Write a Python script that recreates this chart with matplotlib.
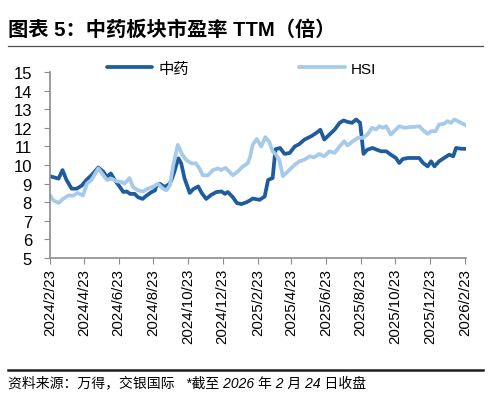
import matplotlib
matplotlib.use("Agg")
import matplotlib.pyplot as plt
import pandas as pd

plt.rcParams['font.family'] = ['Liberation Sans', 'Noto Sans CJK SC', 'DejaVu Sans']

# 中药板块市盈率 TTM
tcm_dates = [
    "2024-02-23", "2024-03-09", "2024-03-16", "2024-03-23", "2024-04-01", "2024-04-10",
    "2024-04-19", "2024-04-27", "2024-05-06", "2024-05-18", "2024-05-27", "2024-06-02",
    "2024-06-09", "2024-06-16", "2024-06-25", "2024-07-01", "2024-07-07", "2024-07-13",
    "2024-07-21", "2024-07-27", "2024-08-04", "2024-08-11", "2024-08-20", "2024-08-26",
    "2024-08-28", "2024-09-03", "2024-09-12", "2024-09-21", "2024-09-27", "2024-10-06",
    "2024-10-11", "2024-10-17", "2024-10-26", "2024-11-01", "2024-11-10", "2024-11-16",
    "2024-11-24", "2024-12-03", "2024-12-12", "2024-12-21", "2024-12-27", "2025-01-01",
    "2025-01-10", "2025-01-17", "2025-01-25", "2025-02-03", "2025-02-09", "2025-02-14",
    "2025-02-26", "2025-03-07", "2025-03-13", "2025-03-21", "2025-03-26", "2025-04-03",
    "2025-04-11", "2025-04-20", "2025-04-29", "2025-05-07", "2025-05-16", "2025-05-28",
    "2025-06-06", "2025-06-13", "2025-06-20", "2025-06-29", "2025-07-08", "2025-07-17",
    "2025-07-24", "2025-07-31", "2025-08-08", "2025-08-15", "2025-08-22", "2025-08-28",
    "2025-09-04", "2025-09-13", "2025-09-20", "2025-09-28", "2025-10-07", "2025-10-15",
    "2025-10-24", "2025-10-30", "2025-11-05", "2025-11-14", "2025-11-22", "2025-12-04",
    "2025-12-11", "2025-12-19", "2025-12-25", "2025-12-31", "2026-01-08", "2026-01-17",
    "2026-01-26", "2026-02-02", "2026-02-07", "2026-02-15", "2026-02-24",
]
tcm_pe = [
    9.40, 9.27, 9.73, 9.20, 8.73, 8.73,
    8.90, 9.20, 9.45, 9.87, 9.64, 9.36,
    9.55, 9.20, 8.82, 8.55, 8.58, 8.45,
    8.45, 8.27, 8.18, 8.36, 8.55, 8.64,
    8.87, 9.00, 8.82, 9.00, 9.45, 10.36,
    10.09, 9.27, 8.50, 8.70, 8.85, 8.50,
    8.18, 8.40, 8.55, 8.58, 8.45, 8.55,
    8.27, 7.96, 7.90, 8.00, 8.10, 8.20,
    8.13, 8.31, 9.20, 9.30, 10.85, 10.92,
    10.60, 10.65, 11.00, 11.13, 11.37, 11.55,
    11.73, 11.90, 11.37, 11.64, 11.90, 12.27,
    12.40, 12.32, 12.27, 12.45, 12.27, 10.60,
    10.83, 10.92, 10.83, 10.74, 10.74, 10.56,
    10.38, 10.11, 10.32, 10.38, 10.38, 10.38,
    10.11, 9.93, 10.20, 9.93, 10.20, 10.38,
    10.56, 10.47, 10.92, 10.88, 10.87,
]

# 恒生指数市盈率 TTM
hsi_dates = [
    "2024-02-23", "2024-02-29", "2024-03-09", "2024-03-17", "2024-03-26", "2024-04-04",
    "2024-04-12", "2024-04-21", "2024-04-28", "2024-05-06", "2024-05-18", "2024-05-27",
    "2024-06-02", "2024-06-10", "2024-06-19", "2024-06-28", "2024-07-03", "2024-07-12",
    "2024-07-18", "2024-07-27", "2024-08-05", "2024-08-13", "2024-08-22", "2024-08-31",
    "2024-09-09", "2024-09-15", "2024-09-21", "2024-09-27", "2024-10-05", "2024-10-13",
    "2024-10-20", "2024-10-29", "2024-11-06", "2024-11-12", "2024-11-18", "2024-11-27",
    "2024-12-06", "2024-12-15", "2024-12-20", "2024-12-28", "2025-01-04", "2025-01-10",
    "2025-01-18", "2025-01-27", "2025-02-05", "2025-02-09", "2025-02-14", "2025-02-21",
    "2025-03-01", "2025-03-08", "2025-03-15", "2025-03-21", "2025-03-27", "2025-04-02",
    "2025-04-08", "2025-04-20", "2025-04-29", "2025-05-07", "2025-05-16", "2025-05-25",
    "2025-06-02", "2025-06-11", "2025-06-20", "2025-06-29", "2025-07-08", "2025-07-17",
    "2025-07-25", "2025-07-31", "2025-08-09", "2025-08-18", "2025-08-26", "2025-09-04",
    "2025-09-12", "2025-09-19", "2025-09-25", "2025-10-01", "2025-10-07", "2025-10-15",
    "2025-10-24", "2025-10-30", "2025-11-08", "2025-11-16", "2025-11-25", "2025-12-04",
    "2025-12-13", "2025-12-19", "2025-12-25", "2026-01-02", "2026-01-08", "2026-01-17",
    "2026-01-23", "2026-01-29", "2026-02-04", "2026-02-10", "2026-02-16", "2026-02-24",
]
hsi_pe = [
    8.36, 8.10, 7.96, 8.18, 8.36, 8.36,
    8.50, 8.36, 9.00, 9.20, 9.82, 9.45,
    9.20, 9.27, 9.13, 9.09, 9.00, 9.30,
    8.82, 8.64, 8.58, 8.73, 8.82, 9.00,
    8.73, 8.64, 8.90, 10.00, 11.09, 10.55,
    10.27, 10.09, 10.09, 9.82, 9.45, 9.45,
    9.73, 9.82, 9.73, 9.85, 9.64, 9.45,
    9.64, 9.91, 10.09, 10.40, 11.10, 11.40,
    11.00, 11.50, 11.25, 10.74, 10.56, 10.25,
    9.40, 9.75, 10.02, 10.20, 10.29, 10.47,
    10.41, 10.60, 10.47, 10.74, 10.65, 11.00,
    11.28, 11.05, 11.28, 11.46, 11.46, 11.64,
    12.00, 11.91, 12.09, 12.00, 12.09, 11.64,
    11.91, 12.09, 12.00, 12.04, 12.05, 12.09,
    11.82, 11.68, 11.82, 11.82, 12.18, 12.22,
    12.36, 12.27, 12.45, 12.36, 12.27, 12.14,
]

tick_dates = ["2024-02-23", "2024-04-23", "2024-06-23", "2024-08-23", "2024-10-23",
              "2024-12-23", "2025-02-23", "2025-04-23", "2025-06-23", "2025-08-23",
              "2025-10-23", "2025-12-23", "2026-02-23"]

dark_blue = "#1F5C9E"
light_blue = "#A6CAEC"
axis_grey = "#8C8C8C"

fig = plt.figure(figsize=(4.88, 4.06), dpi=100)
ax = fig.add_axes([0.1025, 0.362, 0.853, 0.458])

ax.plot(pd.to_datetime(tcm_dates), tcm_pe, color=dark_blue, lw=2.7, label="中药",
        solid_joinstyle="round", solid_capstyle="round")
ax.plot(pd.to_datetime(hsi_dates), hsi_pe, color=light_blue, lw=2.7, label="HSI",
        solid_joinstyle="round", solid_capstyle="round")

ax.set_ylim(5, 15)
ax.set_yticks(range(5, 16))
ax.set_xlim(pd.Timestamp("2024-02-23"), pd.Timestamp("2026-02-25"))
ticks = pd.to_datetime(tick_dates)
ax.set_xticks(ticks)
ax.set_xticklabels([f"{t.year}/{t.month}/{t.day}" for t in ticks], rotation=90,
                   fontsize=10.8)
ax.tick_params(axis="y", labelsize=12, length=4, color=axis_grey, pad=9)
ax.tick_params(axis="x", length=4, color=axis_grey, pad=3)

for s in ["top", "right"]:
    ax.spines[s].set_visible(False)
for s in ["left", "bottom"]:
    ax.spines[s].set_color(axis_grey)
    ax.spines[s].set_linewidth(1.2)

ax.legend(loc="upper center", bbox_to_anchor=(0.46, 1.13), ncol=2, frameon=False,
          fontsize=11, handlelength=3.0, columnspacing=7.2, handletextpad=0.4)

# title and rules
fig.text(0.017, 0.925, "图表 5：中药板块市盈率 TTM（倍）", fontsize=14.6, fontweight="bold",
         ha="left", va="center")
fig.add_artist(plt.Line2D([0.017, 0.99], [0.884, 0.884], color="#505050", lw=0.9))
fig.add_artist(plt.Line2D([0.017, 0.99], [0.087, 0.087], color="#202020", lw=1.8))
fig.text(0.017, 0.056, "资料来源：万得，交银国际   *截至 2026 年 2 月 24 日收盘", fontsize=10,
         ha="left", va="center", style="italic")

fig.savefig("out.png", dpi=100)
